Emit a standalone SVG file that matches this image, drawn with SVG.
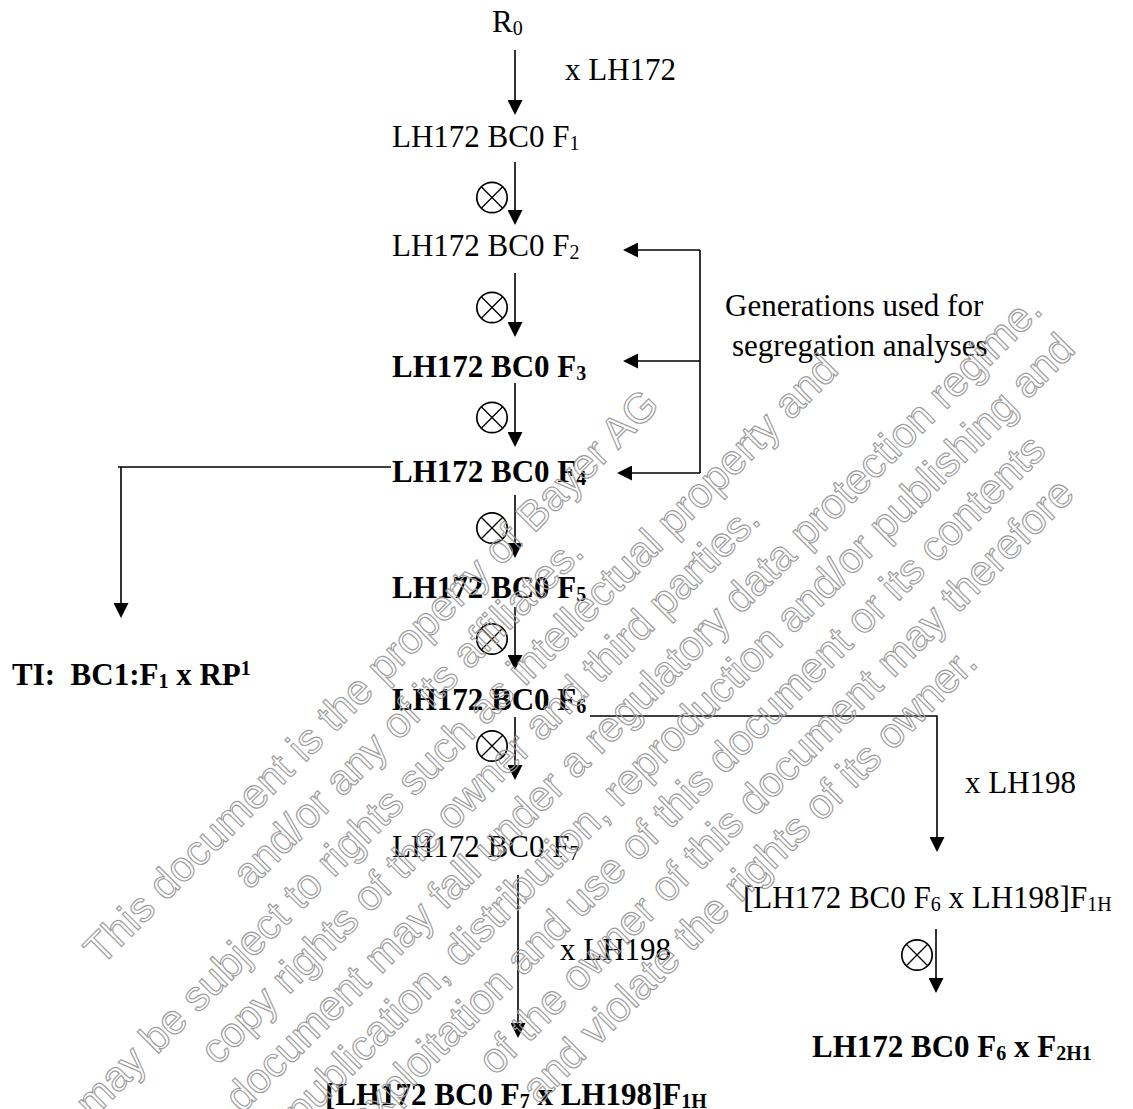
<svg xmlns="http://www.w3.org/2000/svg" xmlns:xlink="http://www.w3.org/1999/xlink" width="1133" height="1109" viewBox="0 0 1133 1109">
<style>
.t{font-family:"Liberation Serif","Times New Roman",serif;font-size:31px;fill:#000}
.b{font-weight:bold}
.s{font-size:20px}
.c{fill:none;stroke:#000;stroke-width:1.6}
.ox circle{fill:none;stroke:#000;stroke-width:1.7}
.ox path{fill:none;stroke:#000;stroke-width:1.3}
.w{font-family:"Liberation Sans",Arial,sans-serif;font-size:42px;fill:none;stroke:#9c9c9c;stroke-width:1.15}
</style>
<defs>
<marker id="ah" markerUnits="userSpaceOnUse" markerWidth="15" markerHeight="15" viewBox="0 0 15 15" refX="12" refY="7.5" orient="auto"><path d="M0,0 L15,7.5 L0,15 z" fill="#000"/></marker>
<g id="otimes" class="ox"><circle r="15.2"/><path d="M-10.7,-10.7 L10.7,10.7 M10.7,-10.7 L-10.7,10.7"/></g>
</defs>
<rect width="1133" height="1109" fill="#fff"/>

<g id="connectors">
<path class="c" marker-end="url(#ah)" d="M515,50 V112"/>
<path class="c" marker-end="url(#ah)" d="M515,162 V222"/>
<path class="c" marker-end="url(#ah)" d="M515,273 V334"/>
<path class="c" marker-end="url(#ah)" d="M515,383 V444"/>
<path class="c" marker-end="url(#ah)" d="M515,495 V555"/>
<path class="c" marker-end="url(#ah)" d="M515,607 V667"/>
<path class="c" marker-end="url(#ah)" d="M515,717 V777"/>
<path class="c" marker-end="url(#ah)" d="M518,875 V1035"/>
<path class="c" marker-end="url(#ah)" d="M590,716 H937 V849"/>
<path class="c" marker-end="url(#ah)" d="M936,929 V990"/>
<path class="c" marker-end="url(#ah)" d="M391,467 H118 M121,467 V615"/>
<path class="c" d="M700,250 V473"/>
<path class="c" marker-end="url(#ah)" d="M700,250 H626"/>
<path class="c" marker-end="url(#ah)" d="M700,361 H626"/>
<path class="c" marker-end="url(#ah)" d="M700,473 H620"/>
<g id="selfing-symbols">
<use xlink:href="#otimes" x="492" y="197.5"/>
<use xlink:href="#otimes" x="492" y="307.5"/>
<use xlink:href="#otimes" x="492" y="417.5"/>
<use xlink:href="#otimes" x="492" y="528"/>
<use xlink:href="#otimes" x="492" y="639"/>
<use xlink:href="#otimes" x="492" y="746"/>
<use xlink:href="#otimes" x="917" y="955"/>
</g>
<text class="t" x="565" y="80">x LH172</text>
<text class="t" x="560" y="960">x LH198</text>
<text class="t" x="965" y="793">x LH198</text>
</g>

<g id="n-r0"><text class="t" x="492" y="32">R<tspan class="s" dy="3">0</tspan></text></g>
<g id="n-f1"><text class="t" x="392" y="147">LH172 BC0 F<tspan class="s" dy="3">1</tspan></text></g>
<g id="n-f2"><text class="t" x="392" y="256">LH172 BC0 F<tspan class="s" dy="3">2</tspan></text></g>
<g id="n-f3"><text class="t b" x="392" y="377">LH172 BC0 F<tspan class="s" dy="3">3</tspan></text></g>
<g id="n-f4"><text class="t b" x="392" y="482">LH172 BC0 F<tspan class="s" dy="3">4</tspan></text></g>
<g id="n-f5"><text class="t b" x="392" y="598">LH172 BC0 F<tspan class="s" dy="3">5</tspan></text></g>
<g id="n-f6"><text class="t b" x="392" y="710">LH172 BC0 F<tspan class="s" dy="3">6</tspan></text></g>
<g id="n-f7"><text class="t" x="392" y="857">LH172 BC0 F<tspan class="s" dy="3">7</tspan></text></g>
<g id="n-f7x"><text class="t b" x="325" y="1105">[LH172 BC0 F<tspan class="s" dy="3">7</tspan><tspan dy="-3"> x LH198]F</tspan><tspan class="s" dy="3">1H</tspan></text></g>
<g id="n-ti"><text class="t b" x="12" y="685" xml:space="preserve">TI:  BC1:F<tspan class="s" dy="3">1</tspan><tspan dy="-3"> x RP</tspan><tspan class="s" dy="-10">1</tspan></text></g>
<g id="n-gen"><text class="t" x="725" y="316">Generations used for</text><text class="t" x="732" y="356">segregation analyses</text></g>
<g id="n-f6x"><text class="t" x="743" y="908">[LH172 BC0 F<tspan class="s" dy="3">6</tspan><tspan dy="-3"> x LH198]F</tspan><tspan class="s" dy="3">1H</tspan></text></g>
<g id="n-f6f2"><text class="t b" x="812" y="1057">LH172 BC0 F<tspan class="s" dy="3">6</tspan><tspan dy="-3"> x F</tspan><tspan class="s" dy="3">2H1</tspan></text></g>

<g id="watermark">
<text class="w" x="101.4" y="966.6" transform="rotate(-45 101.4 966.6)">This document is the property of Bayer AG</text>
<text class="w" x="249.6" y="890.4" transform="rotate(-45 249.6 890.4)">and/or any of its affiliates.</text>
<text class="w" x="92.4" y="1119.6" transform="rotate(-45 92.4 1119.6)">may be subject to rights such as intellectual property and</text>
<text class="w" x="217.6" y="1066.4" transform="rotate(-45 217.6 1066.4)">copy rights of the owner and third parties.</text>
<text class="w" x="242" y="1114" transform="rotate(-45 242 1114)">document may fall under a regulatory data protection regime.</text>
<text class="w" x="301.1" y="1126.9" transform="rotate(-45 301.1 1126.9)">publication, distribution, reproduction and/or publishing and</text>
<text class="w" x="364.3" y="1135.7" transform="rotate(-45 364.3 1135.7)">exploitation and use of this document or its contents</text>
<text class="w" x="495.3" y="1076.7" transform="rotate(-45 495.3 1076.7)">of the owner of this document may therefore</text>
<text class="w" x="538.8" y="1105.2" transform="rotate(-45 538.8 1105.2)">and violate the rights of its owner.</text>
</g>
</svg>
